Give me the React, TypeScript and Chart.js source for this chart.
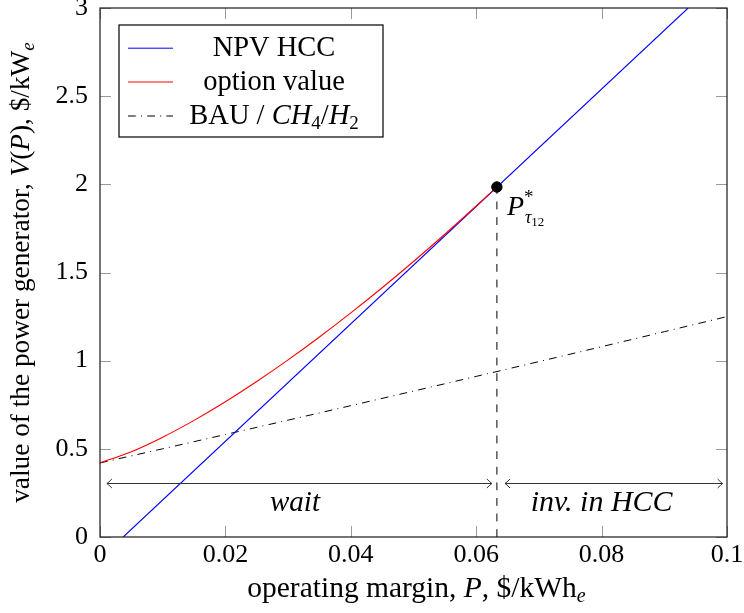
import React, { useEffect, useRef } from "react";
import { Chart, registerables } from "chart.js";

Chart.register(...registerables);

// Axis ranges and tick values
const xTicks = [0, 0.02, 0.04, 0.06, 0.08, 0.1];
const yTicks = [0, 0.5, 1, 1.5, 2, 2.5, 3];

// NPV of investing in HCC (straight line)
const npvP = [0.0037, 0.0938];
const npvV = [0, 3];

// Option value of waiting
const optionP = [0, 0.005, 0.01, 0.015, 0.02, 0.025, 0.03, 0.035, 0.04, 0.045, 0.05, 0.055, 0.06, 0.0633];
const optionV = [0.42, 0.4833, 0.566, 0.6615, 0.7672, 0.8818, 1.0043, 1.1342, 1.2707, 1.4137, 1.5625, 1.7171, 1.877, 1.985];

// Business as usual (CH4/H2)
const bauP = [0, 0.01, 0.02, 0.03, 0.04, 0.05, 0.06, 0.07, 0.08, 0.09, 0.1];
const bauV = [0.42, 0.5003, 0.5812, 0.6627, 0.7448, 0.8275, 0.9108, 0.9947, 1.0792, 1.1643, 1.25];

// Investment threshold
const pStar = 0.0633;
const vStar = 1.985;

// Region arrows: [from, to] in P, drawn at V = arrowV
const arrowV = 0.305;
const waitSpan = [0.0011, 0.0625];
const investSpan = [0.0646, 0.0993];
const waitLabelP = 0.0311;
const investLabelP = 0.08;

const SERIF = "'Liberation Serif', 'DejaVu Serif', serif";
const BASE = 26;

type Run = { t: string; it?: boolean; size?: number; dy?: number };

function fontFor(r: Run, base: number) {
  return `${r.it ? "italic " : ""}${r.size ?? base}px ${SERIF}`;
}

function runsWidth(ctx: CanvasRenderingContext2D, runs: Run[], base: number) {
  let w = 0;
  for (const r of runs) {
    ctx.font = fontFor(r, base);
    w += ctx.measureText(r.t).width;
  }
  return w;
}

function drawRuns(
  ctx: CanvasRenderingContext2D,
  runs: Run[],
  x: number,
  y: number,
  align: "left" | "center",
  base: number = BASE
) {
  ctx.save();
  ctx.textBaseline = "alphabetic";
  ctx.textAlign = "left";
  ctx.fillStyle = "#000";
  let cx = align === "center" ? x - runsWidth(ctx, runs, base) / 2 : x;
  for (const r of runs) {
    ctx.font = fontFor(r, base);
    ctx.fillText(r.t, cx, y + (r.dy ?? 0));
    cx += ctx.measureText(r.t).width;
  }
  ctx.restore();
}

function arrowHead(ctx: CanvasRenderingContext2D, x: number, y: number, dir: number) {
  ctx.beginPath();
  ctx.moveTo(x - dir * 5, y - 4.5);
  ctx.quadraticCurveTo(x - dir * 1.5, y - 1, x, y);
  ctx.quadraticCurveTo(x - dir * 1.5, y + 1, x - dir * 5, y + 4.5);
  ctx.stroke();
}

const fmt = (v: number) => String(Math.round(v * 1000) / 1000);

const decorations = {
  id: "decorations",
  afterDatasetsDraw(chart: any) {
    const ctx: CanvasRenderingContext2D = chart.ctx;
    const xs = chart.scales.x;
    const ys = chart.scales.y;
    const { left, right, top, bottom } = chart.chartArea;

    // inward tick marks on all four sides
    ctx.save();
    ctx.strokeStyle = "#9a9a9a";
    ctx.lineWidth = 1;
    const tl = 11;
    ctx.beginPath();
    for (const v of xTicks) {
      const px = Math.round(xs.getPixelForValue(v)) + 0.5;
      ctx.moveTo(px, bottom);
      ctx.lineTo(px, bottom - tl);
      ctx.moveTo(px, top);
      ctx.lineTo(px, top + tl);
    }
    for (const v of yTicks) {
      const py = Math.round(ys.getPixelForValue(v)) + 0.5;
      ctx.moveTo(left, py);
      ctx.lineTo(left + tl, py);
      ctx.moveTo(right, py);
      ctx.lineTo(right - tl, py);
    }
    ctx.stroke();
    ctx.restore();

    // frame
    ctx.save();
    ctx.strokeStyle = "#1a1a1a";
    ctx.lineWidth = 1.2;
    ctx.strokeRect(left, top, right - left, bottom - top);
    ctx.restore();

    // region arrows
    ctx.save();
    ctx.strokeStyle = "#333";
    ctx.lineWidth = 1;
    const ay = Math.round(ys.getPixelForValue(arrowV)) + 0.5;
    for (const span of [waitSpan, investSpan]) {
      const x0 = xs.getPixelForValue(span[0]);
      const x1 = xs.getPixelForValue(span[1]);
      ctx.beginPath();
      ctx.moveTo(x0, ay);
      ctx.lineTo(x1, ay);
      ctx.stroke();
      arrowHead(ctx, x0, ay, -1);
      arrowHead(ctx, x1, ay, 1);
    }
    ctx.restore();

    const ly = ay + 27;
    drawRuns(ctx, [{ t: "wait", it: true }], xs.getPixelForValue(waitLabelP), ly, "center", 29);
    drawRuns(ctx, [{ t: "inv. in HCC", it: true }], xs.getPixelForValue(investLabelP), ly, "center", 30);

    // threshold label
    const sx = xs.getPixelForValue(pStar);
    const sy = ys.getPixelForValue(vStar);
    drawRuns(
      ctx,
      [
        { t: "P", it: true },
        { t: "*", size: 19, dy: -12 },
      ],
      sx + 10,
      sy + 28,
      "left",
      28
    );
    drawRuns(
      ctx,
      [
        { t: "τ", it: true, size: 18 },
        { t: "12", size: 13, dy: 3 },
      ],
      sx + 28,
      sy + 36,
      "left"
    );

    // legend
    const bx = 119, by = 25, bw = 264, bh = 112;
    ctx.save();
    ctx.fillStyle = "#fff";
    ctx.fillRect(bx, by, bw, bh);
    ctx.strokeStyle = "#000";
    ctx.lineWidth = 1.2;
    ctx.strokeRect(bx, by, bw, bh);
    const rows: { color: string; dash: number[]; runs: Run[] }[] = [
      { color: "#0000ff", dash: [], runs: [{ t: "NPV HCC" }] },
      { color: "#ff0000", dash: [], runs: [{ t: "option value" }] },
      {
        color: "#000",
        dash: [7.8, 5.2, 1, 5.2],
        runs: [
          { t: "BAU / " },
          { t: "CH", it: true },
          { t: "4", size: 19, dy: 5 },
          { t: "/" },
          { t: "H", it: true },
          { t: "2", size: 19, dy: 5 },
        ],
      },
    ];
    const rowY = [47.7, 81.5, 115.5];
    rows.forEach((row, i) => {
      const y = rowY[i] + 0.5;
      ctx.save();
      ctx.strokeStyle = row.color;
      ctx.lineWidth = 1;
      ctx.setLineDash(row.dash);
      ctx.beginPath();
      ctx.moveTo(128, y);
      ctx.lineTo(173, y);
      ctx.stroke();
      ctx.restore();
      drawRuns(ctx, row.runs, 274, rowY[i] + 8.5, "center", 28.5);
    });
    ctx.restore();

    // axis titles
    drawRuns(
      ctx,
      [
        { t: "operating margin, " },
        { t: "P", it: true },
        { t: ", $/kWh" },
        { t: "e", it: true, size: 20, dy: 5 },
      ],
      (left + right) / 2 + 3,
      597,
      "center",
      29.5
    );
    ctx.save();
    ctx.translate(29, (top + bottom) / 2);
    ctx.rotate(-Math.PI / 2);
    drawRuns(
      ctx,
      [
        { t: "value of the power generator, " },
        { t: "V", it: true },
        { t: "(" },
        { t: "P", it: true },
        { t: "), $/kW" },
        { t: "e", it: true, size: 19, dy: 5 },
      ],
      0,
      0,
      "center",
      27.3
    );
    ctx.restore();
  },
};

export default function App() {
  const ref = useRef<HTMLCanvasElement | null>(null);

  useEffect(() => {
    document.body.style.margin = "0";
    const canvas = ref.current;
    if (!canvas) return;
    const toPts = (xs: number[], ys: number[]) => xs.map((x, i) => ({ x, y: ys[i] }));
    const chart = new Chart(canvas, {
      type: "scatter",
      data: {
        datasets: [
          {
            label: "threshold",
            data: [{ x: pStar, y: vStar }],
            pointRadius: 5.2,
            pointBackgroundColor: "#000",
            pointBorderColor: "#000",
            showLine: false,
            order: 0,
          },
          {
            label: "threshold line",
            data: [
              { x: pStar, y: 0 },
              { x: pStar, y: vStar },
            ],
            showLine: true,
            borderColor: "#000",
            borderWidth: 1,
            borderDash: [7.8, 7.8],
            pointRadius: 0,
            order: 1,
          },
          {
            label: "option value",
            data: toPts(optionP, optionV),
            showLine: true,
            borderColor: "#ff0000",
            borderWidth: 1.1,
            pointRadius: 0,
            tension: 0.4,
            cubicInterpolationMode: "monotone",
            order: 2,
          },
          {
            label: "NPV HCC",
            data: toPts(npvP, npvV),
            showLine: true,
            borderColor: "#0000ff",
            borderWidth: 1.1,
            pointRadius: 0,
            order: 3,
          },
          {
            label: "BAU / CH4/H2",
            data: toPts(bauP, bauV),
            showLine: true,
            borderColor: "#000",
            borderWidth: 1,
            borderDash: [7.8, 5.2, 1, 5.2],
            pointRadius: 0,
            tension: 0.4,
            cubicInterpolationMode: "monotone",
            order: 4,
          },
        ],
      },
      options: {
        animation: false,
        responsive: false,
        maintainAspectRatio: false,
        layout: { padding: { top: 8, right: 17, left: 0, bottom: 0 } },
        plugins: { legend: { display: false }, tooltip: { enabled: false } },
        scales: {
          x: {
            type: "linear",
            min: 0,
            max: 0.1,
            afterBuildTicks: (s: any) => {
              s.ticks = xTicks.map((v) => ({ value: v }));
            },
            afterFit: (s: any) => {
              s.height = 76;
              s.paddingLeft = 0;
              s.paddingRight = 0;
            },
            grid: { display: false, drawTicks: false },
            border: { display: false },
            ticks: {
              color: "#000",
              font: { family: SERIF, size: BASE },
              padding: 3,
              maxRotation: 0,
              callback: (v: any) => fmt(Number(v)),
            },
          },
          y: {
            type: "linear",
            min: 0,
            max: 3,
            afterBuildTicks: (s: any) => {
              s.ticks = yTicks.map((v) => ({ value: v }));
            },
            afterFit: (s: any) => {
              s.width = 100;
              s.paddingTop = 0;
              s.paddingBottom = 0;
            },
            grid: { display: false, drawTicks: false },
            border: { display: false },
            ticks: {
              color: "#000",
              font: { family: SERIF, size: BASE },
              padding: 12,
              callback: (v: any) => fmt(Number(v)),
            },
          },
        },
      },
      plugins: [decorations],
    } as any);
    return () => chart.destroy();
  }, []);

  return (
    <div style={{ position: "absolute", left: 0, top: 0, width: 744, height: 613, background: "#fff" }}>
      <canvas ref={ref} width={744} height={613} />
    </div>
  );
}
